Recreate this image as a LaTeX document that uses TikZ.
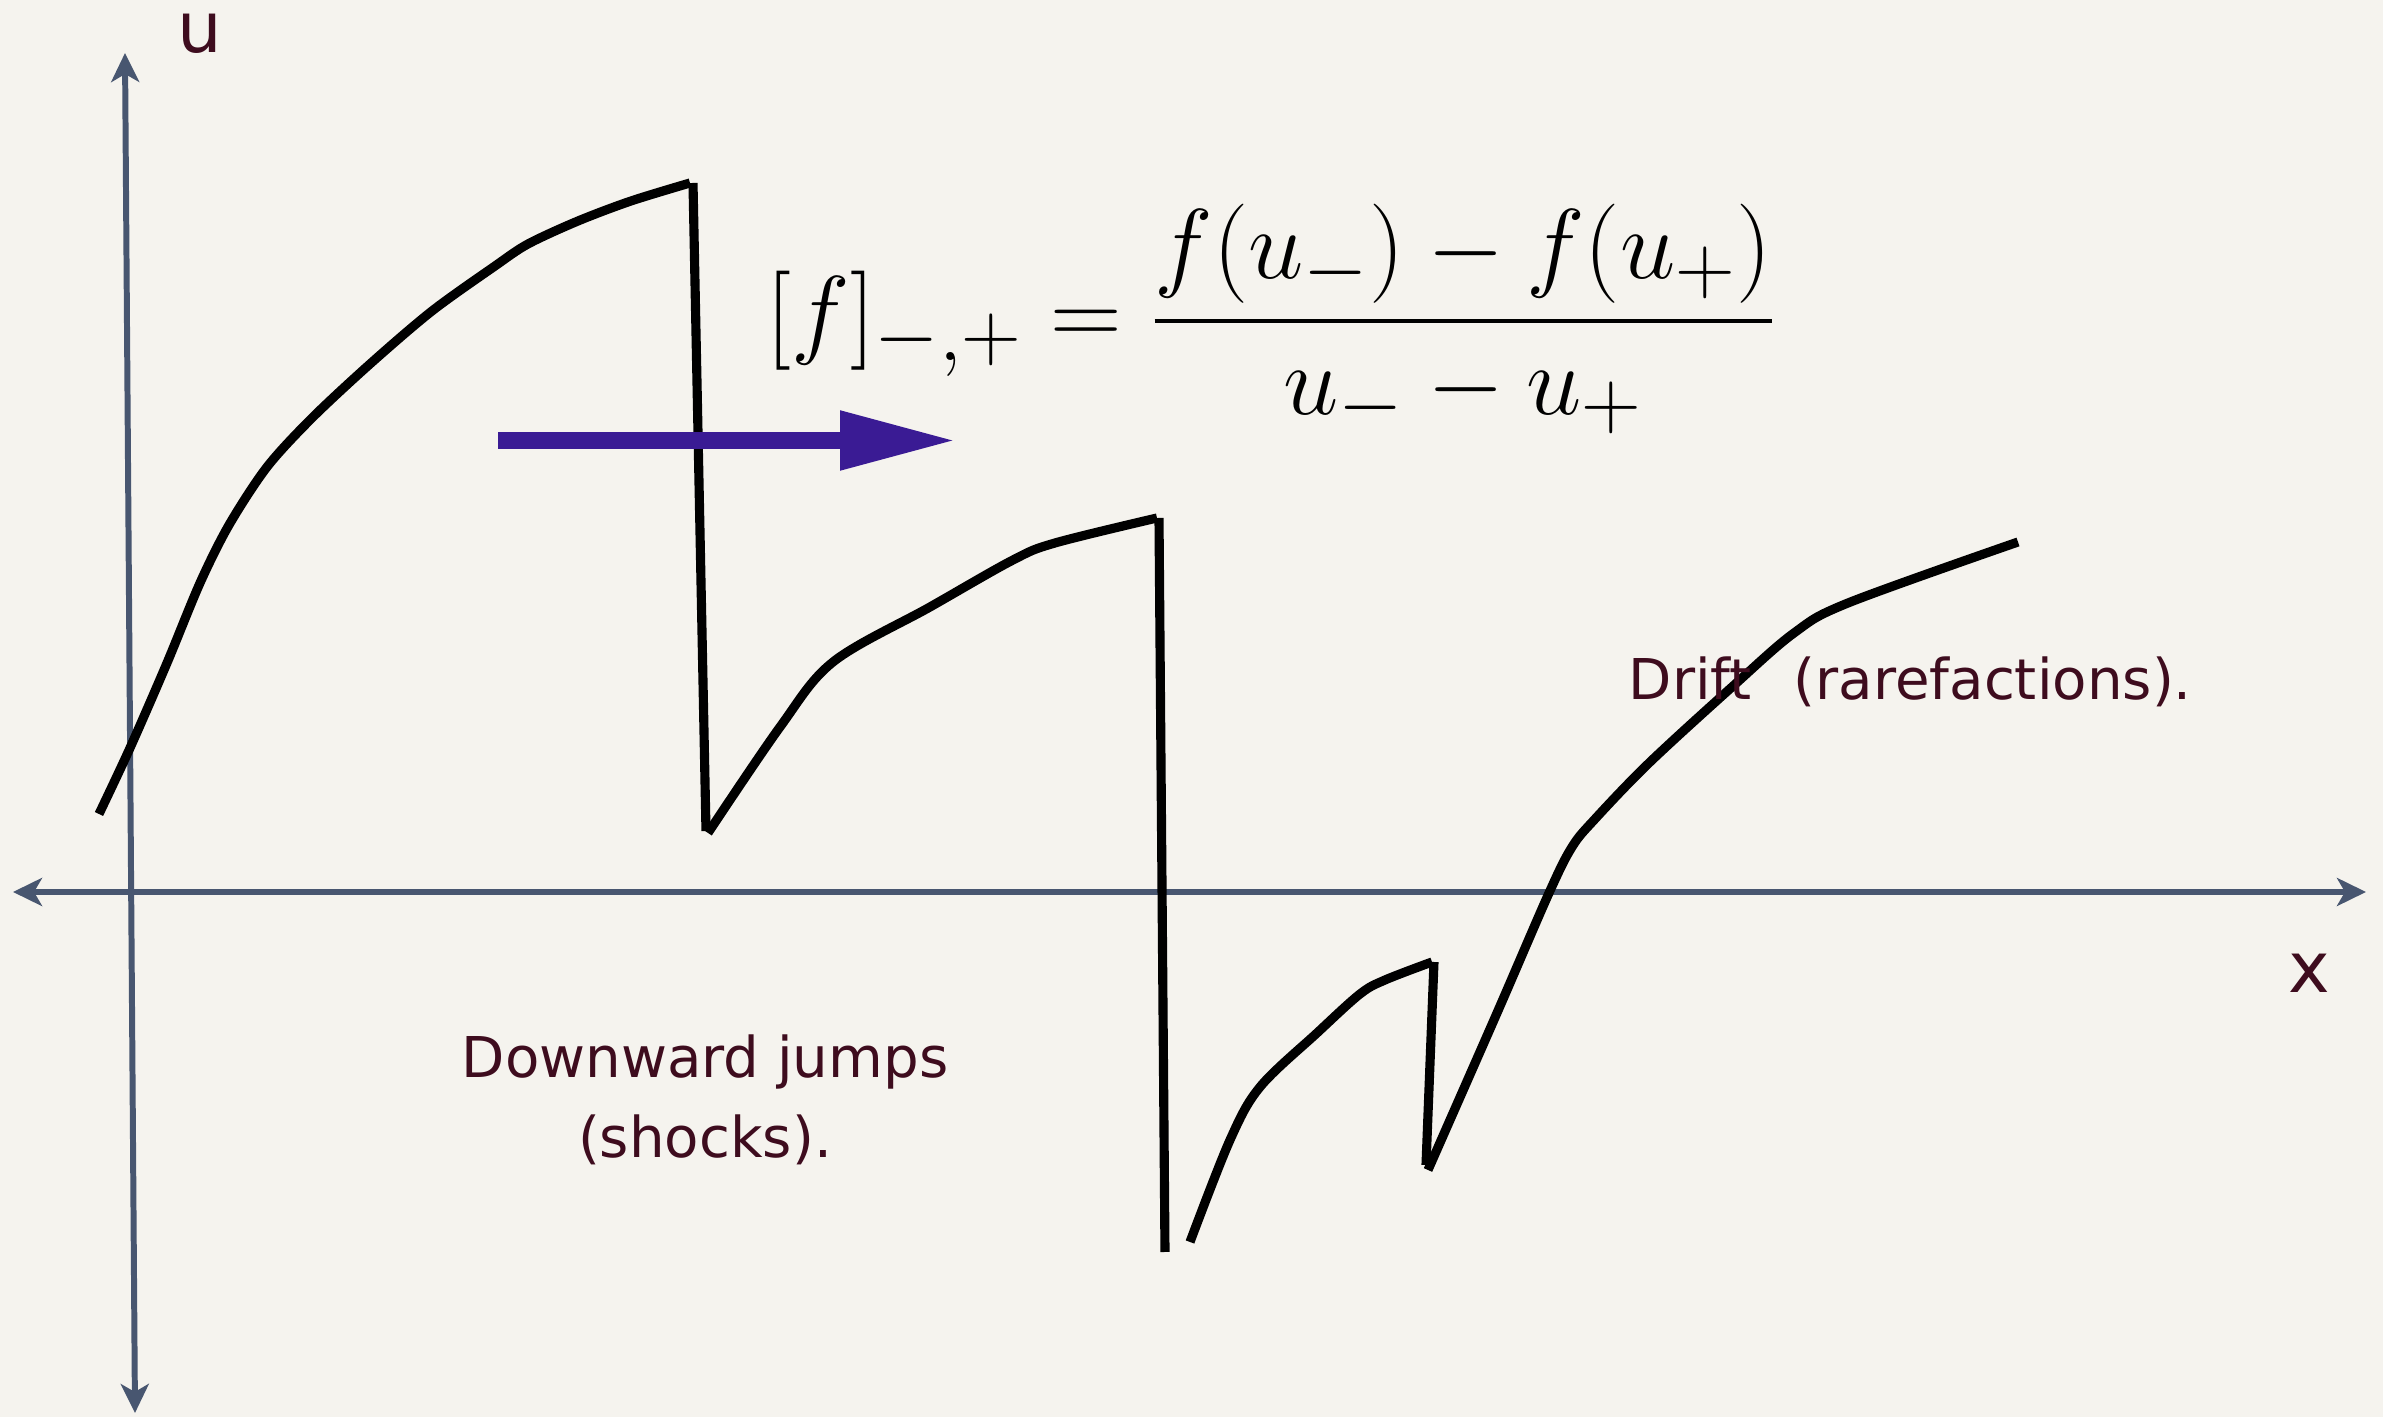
\documentclass[tikz,border=0pt]{standalone}
\usepackage{fontspec}
\newfontfamily\chalk{DejaVu Sans}
\usetikzlibrary{arrows.meta}
\definecolor{paper}{RGB}{245,243,238}
\definecolor{axisgray}{RGB}{72,86,112}
\definecolor{inkred}{RGB}{62,12,30}
\definecolor{speedblue}{RGB}{58,27,148}

\begin{document}
\begin{tikzpicture}[>={Stealth[length=0.29cm,width=0.28cm,inset=0.08cm]},
    axis/.style={draw=axisgray, line width=1.7pt},
    wave/.style={line width=2.6pt, line join=round},
    lbl/.style={text=inkred, font=\chalk\fontsize{16}{22.8}\selectfont, inner sep=0pt},
    axlbl/.style={text=inkred, font=\chalk\fontsize{20}{24}\selectfont, inner sep=0pt}]
    \fill[paper] (0,0) rectangle (23.83,14.17);
    \useasboundingbox (0,0) rectangle (23.83,14.17);

    \draw[axis, <->] (0.13,5.25) -- (23.66,5.25);
    \draw[axis, <->] (1.35,0.04) -- (1.25,13.64);
    \node[axlbl] (ulabel) at (2.00,13.84) {u};
    \node[axlbl] (xlabel) at (23.09,4.44) {x};

    \draw[wave] plot[smooth, tension=0.5] coordinates {(0.99,6.03) (1.30,6.69) (1.67,7.54) (2.00,8.34) (2.29,8.92) (2.67,9.50) (3.12,9.99) (3.70,10.53) (4.32,11.06) (4.95,11.51) (5.28,11.73) (5.78,11.96) (6.31,12.16) (6.90,12.34)};
    \draw[wave] (6.93,12.34) -- (7.06,5.86);
    \draw[wave] plot[smooth, tension=0.55] coordinates {(7.08,5.84) (7.80,6.90) (8.33,7.55) (9.30,8.10) (10.13,8.57) (10.55,8.74) (11.57,8.99)};
    \draw[wave] (11.59,8.99) -- (11.65,1.65);
    \draw[wave] plot[smooth, tension=0.55] coordinates {(11.90,1.75) (12.30,2.77) (12.60,3.30) (13.17,3.84) (13.60,4.23) (13.85,4.37) (14.32,4.55)};
    \draw[wave] (14.34,4.55) -- (14.26,2.52);
    \draw[wave] plot[smooth, tension=0.55] coordinates {(14.28,2.47) (14.97,4.04) (15.49,5.24) (15.72,5.70) (15.95,5.98) (16.49,6.54) (17.32,7.30) (17.94,7.84) (18.48,8.14) (20.18,8.75)};

    \draw[speedblue, line width=5pt, -{Triangle[length=1.17cm,width=0.55cm]}] (4.98,9.765) -- (9.57,9.765);

    \node[anchor=base west, inner sep=0pt, scale=1.135, font=\fontsize{24.88}{30}\selectfont] (flux) at (7.66,10.71)
      {$\displaystyle [f]_{-,+} = {f(u_-) - f(u_+) \above 1.05pt u_- - u_+}$};

    \node[lbl, align=center, anchor=base] (shocks) at (7.05,2.59) {Downward jumps\\(shocks).};
    \node[lbl, anchor=base west] (drift) at (16.28,7.17) {Drift\hspace{0.75em}(rarefactions).};
  \end{tikzpicture}
\end{document}
